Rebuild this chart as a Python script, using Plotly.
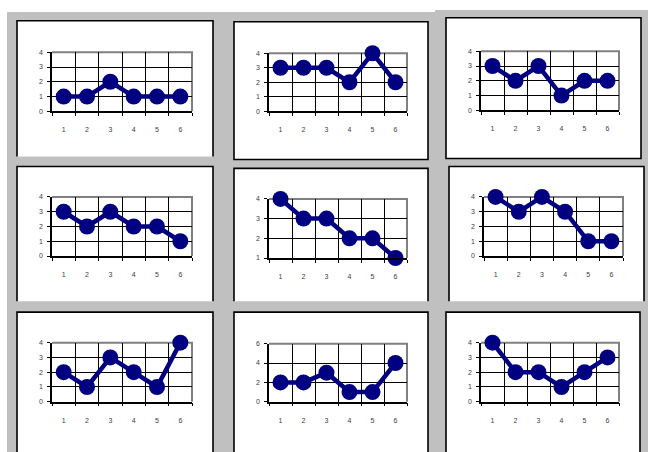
import plotly.graph_objects as go

# ---------------- data ----------------
categories = [1, 2, 3, 4, 5, 6]
series_1 = [1, 1, 2, 1, 1, 1]
series_2 = [3, 3, 3, 2, 4, 2]
series_3 = [3, 2, 3, 1, 2, 2]
series_4 = [3, 2, 3, 2, 2, 1]
series_5 = [4, 3, 3, 2, 2, 1]
series_6 = [4, 3, 4, 3, 1, 1]
series_7 = [2, 1, 3, 2, 1, 4]
series_8 = [2, 2, 3, 1, 1, 4]
series_9 = [4, 2, 2, 1, 2, 3]
y_ticks_0_4 = [0, 1, 2, 3, 4]
y_ticks_1_4 = [1, 2, 3, 4]
y_ticks_0_6 = [0, 2, 4, 6]

all_series = [series_1, series_2, series_3, series_4, series_5,
              series_6, series_7, series_8, series_9]
all_yticks = [y_ticks_0_4, y_ticks_0_4, y_ticks_0_4, y_ticks_0_4, y_ticks_1_4,
              y_ticks_0_4, y_ticks_0_4, y_ticks_0_6, y_ticks_0_4]

# ---------------- layout geometry (pixels) ----------------
W, H = 648, 452
# panel box (l, t, r, b), has bottom border, plot area (l, t, r, b)
panels = [
    ((17, 17, 213, 155), False, (52, 49, 192, 109)),
    ((234, 18, 428, 158), True, (269, 50, 407, 109)),
    ((446, 14, 641, 157), True, (481, 48, 619, 108)),
    ((17, 165, 213, 302), False, (52, 196, 192, 256)),
    ((234, 167, 428, 302), False, (269, 198, 407, 258)),
    ((449, 165, 644, 302), False, (484, 196, 623, 256)),
    ((17, 313, 213, 470), False, (52, 344, 192, 404)),
    ((234, 313, 428, 470), False, (269, 345, 407, 404)),
    ((446, 313, 640, 470), False, (481, 344, 619, 404)),
]


def px(x):
    return x / W


def py(y):
    return 1 - y / H


NAVY = "#000080"
GRAY_BG = "#c0c0c0"
TICK_FONT = dict(family="Liberation Sans, Arial, sans-serif", size=7, color="#404040")

fig = go.Figure()
shapes = []

# gray background
shapes.append(dict(type="rect", xref="paper", yref="paper", layer="below",
                   x0=px(7), x1=px(436), y0=py(470), y1=py(8),
                   fillcolor=GRAY_BG, line=dict(width=0)))
shapes.append(dict(type="rect", xref="paper", yref="paper", layer="below",
                   x0=px(435), x1=px(650), y0=py(470), y1=py(6),
                   fillcolor=GRAY_BG, line=dict(width=0)))

layout_axes = {}
for i, ((bl, bt, br, bb), has_bottom, (al, at, ar, ab)) in enumerate(panels):
    n = i + 1
    sx = "" if n == 1 else str(n)
    # white panel
    shapes.append(dict(type="rect", xref="paper", yref="paper", layer="below",
                       x0=px(bl), x1=px(br), y0=py(bb), y1=py(bt),
                       fillcolor="white", line=dict(width=0)))
    path = f"M {px(bl)},{py(bb)} L {px(bl)},{py(bt)} L {px(br)},{py(bt)} L {px(br)},{py(bb)}"
    if has_bottom:
        path += " Z"
    shapes.append(dict(type="path", xref="paper", yref="paper", layer="below",
                       path=path, line=dict(color="black", width=1.6)))

    yt = all_yticks[i]
    fig.add_trace(go.Scatter(
        x=categories, y=all_series[i], mode="lines+markers",
        line=dict(color=NAVY, width=4.5),
        marker=dict(color=NAVY, size=16),
        cliponaxis=False, showlegend=False,
        xaxis="x" + sx, yaxis="y" + sx, hoverinfo="skip"))

    layout_axes["xaxis" + sx] = dict(
        domain=[px(al), px(ar)], anchor="y" + sx,
        range=[0.5, 6.5], tickmode="array", tickvals=categories,
        ticktext=[str(c) for c in categories],
        ticks="", showgrid=False, zeroline=False,
        showline=True, linecolor="black", linewidth=1.5,
        ticklabelstandoff=11, tickfont=TICK_FONT,
        minor=dict(tick0=0.5, dtick=1, showgrid=True, gridcolor="black",
                   gridwidth=1, ticks="outside", ticklen=3,
                   tickcolor="black", tickwidth=1),
        fixedrange=True)
    layout_axes["yaxis" + sx] = dict(
        domain=[py(ab), py(at)], anchor="x" + sx,
        range=[yt[0], yt[-1]], tickmode="array", tickvals=yt,
        ticks="outside", ticklen=3, tickcolor="black", tickwidth=1,
        showgrid=True, gridcolor="black", gridwidth=1, zeroline=False,
        showline=True, linecolor="black", linewidth=1.5,
        ticklabelstandoff=3,
        tickfont=TICK_FONT, fixedrange=True)
    # gray plot-area border on top and right
    shapes.append(dict(type="path", xref="paper", yref="paper", layer="below",
                       path=f"M {px(al)},{py(at)} L {px(ar)},{py(at)} L {px(ar)},{py(ab)}",
                       line=dict(color="#808080", width=2)))

fig.update_layout(
    width=W, height=H,
    margin=dict(l=0, r=0, t=0, b=0),
    paper_bgcolor="white",
    plot_bgcolor="rgba(0,0,0,0)",
    shapes=shapes,
    showlegend=False,
    **layout_axes,
)

fig.write_html(
    "out.html",
    config={"displayModeBar": False},
    post_script="document.body.style.margin='0';document.body.style.overflow='hidden';",
)
